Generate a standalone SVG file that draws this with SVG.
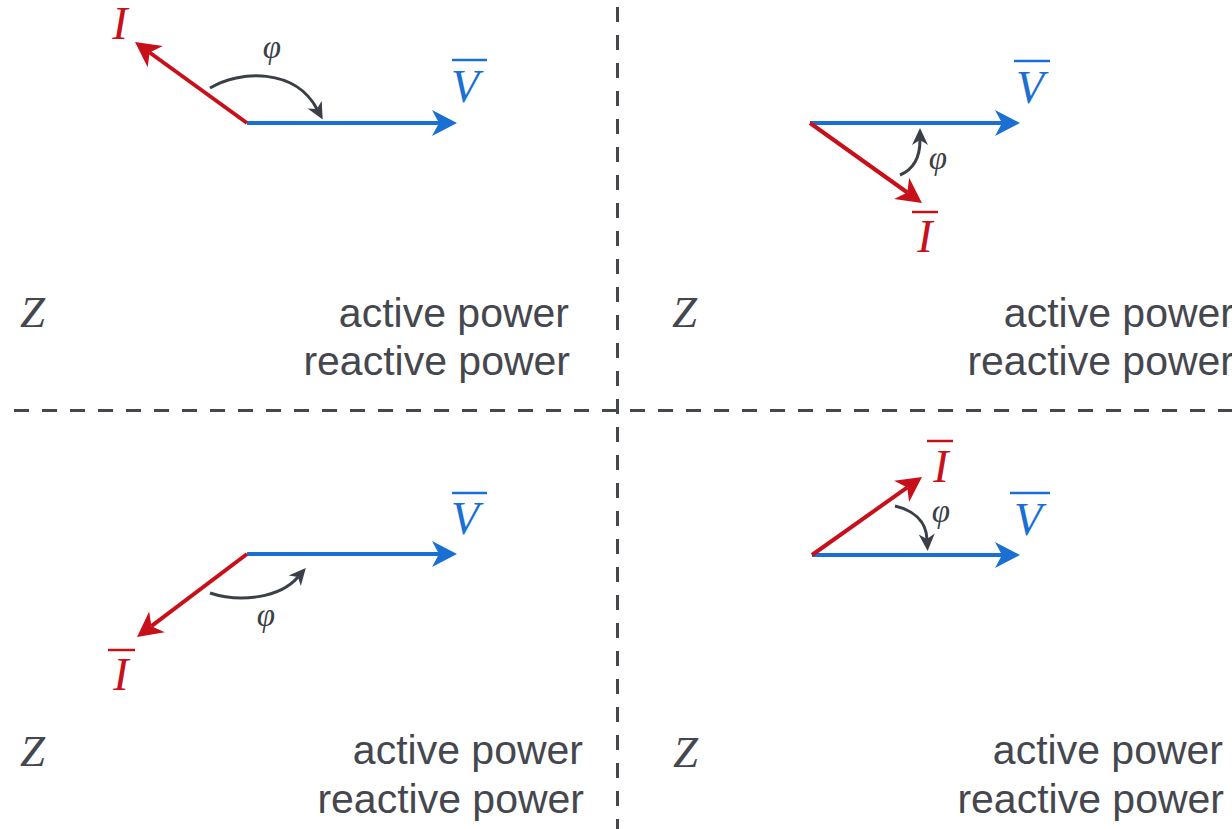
<svg xmlns="http://www.w3.org/2000/svg" width="1232" height="829" viewBox="0 0 1232 829">
<style>
.bg{fill:#ffffff}
.div{stroke:#45474f;stroke-width:3;stroke-dasharray:15 13;fill:none}
.vb{stroke:#1a70d2;stroke-width:4;fill:none}
.vr{stroke:#c8101a;stroke-width:4;fill:none}
.arc{stroke:#3b3f47;stroke-width:3;fill:none}
.sym{font-family:"Liberation Serif","DejaVu Serif",serif;font-style:italic;font-size:46px;text-anchor:middle}
.phi{font-family:"Liberation Serif","DejaVu Serif",serif;font-style:italic;font-size:33px;text-anchor:middle;fill:#3b3f47}
.z{font-family:"Liberation Serif","DejaVu Serif",serif;font-style:italic;font-size:45px;fill:#45474f}
.lbl{font-family:"Liberation Sans","Arial",sans-serif;font-size:41px;fill:#45474f;text-anchor:end}
.blue{fill:#1a70d2}
.red{fill:#c8101a}
.barb{stroke:#1a70d2;stroke-width:2.5}
.barr{stroke:#c8101a;stroke-width:2.5}
</style>
<defs>
<marker id="hb" viewBox="-1 -14 28 28" refX="7" refY="0" markerWidth="28" markerHeight="28" markerUnits="userSpaceOnUse" orient="auto" overflow="visible"><path d="M0,-13 L25,0 L0,13 L7,0 Z" fill="#1a70d2"/></marker>
<marker id="hr" viewBox="-1 -14 28 28" refX="7" refY="0" markerWidth="28" markerHeight="28" markerUnits="userSpaceOnUse" orient="auto" overflow="visible"><path d="M0,-13 L25,0 L0,13 L7,0 Z" fill="#c8101a"/></marker>
<marker id="hg" viewBox="-1 -9 20 18" refX="5" refY="0" markerWidth="20" markerHeight="18" markerUnits="userSpaceOnUse" orient="auto" overflow="visible"><path d="M0,-8 L17,0 L0,8 L5,0 Z" fill="#3b3f47"/></marker>
</defs>
<rect class="bg" x="0" y="0" width="1232" height="829"/>
<g id="dividers">
<line class="div" x1="617.5" y1="7" x2="617.5" y2="829"/>
<line class="div" x1="14" y1="410.5" x2="1232" y2="410.5"/>
</g>
<g id="connectors">
<line class="vb" x1="247" y1="123" x2="439" y2="123" marker-end="url(#hb)"/>
<line class="vr" x1="247" y1="123" x2="149.6" y2="52.5" marker-end="url(#hr)"/>
<path class="arc" d="M210,88 C240,70 295,68 317,109" marker-end="url(#hg)"/>
<line class="vb" x1="810" y1="123" x2="1002" y2="123" marker-end="url(#hb)"/>
<line class="vr" x1="810" y1="123" x2="907.3" y2="192.5" marker-end="url(#hr)"/>
<path class="arc" d="M900,175 C912,170 920,160 920,140" marker-end="url(#hg)"/>
<line class="vb" x1="247" y1="554" x2="439" y2="554" marker-end="url(#hb)"/>
<line class="vr" x1="247" y1="554" x2="151.4" y2="626.2" marker-end="url(#hr)"/>
<path class="arc" d="M210,593 C240,603 280,598 298,577" marker-end="url(#hg)"/>
<line class="vb" x1="812" y1="555" x2="1002" y2="555" marker-end="url(#hb)"/>
<line class="vr" x1="812" y1="555" x2="907.3" y2="487.4" marker-end="url(#hr)"/>
<path class="arc" d="M895,506 C912,510 926,520 927,539" marker-end="url(#hg)"/>
</g>
<g id="q1">
<text class="sym red" x="120" y="39">I</text>
<text class="phi" x="272" y="58">φ</text>
<line class="barb" x1="452" y1="60" x2="487" y2="60"/>
<text class="sym blue" x="465" y="102">V</text>
<text class="z" x="20" y="327">Z</text>
<text class="lbl" x="569" y="327">active power</text>
<text class="lbl" x="570" y="375">reactive power</text>
</g>
<g id="q2">
<line class="barb" x1="1014" y1="61" x2="1050" y2="61"/>
<text class="sym blue" x="1030" y="103">V</text>
<text class="phi" x="938" y="169">φ</text>
<line class="barr" x1="912" y1="212" x2="938" y2="212"/>
<text class="sym red" x="925" y="252">I</text>
<text class="z" x="672" y="327">Z</text>
<text class="lbl" x="1234" y="327">active power</text>
<text class="lbl" x="1234" y="375">reactive power</text>
</g>
<g id="q3">
<line class="barb" x1="452" y1="493" x2="487" y2="493"/>
<text class="sym blue" x="465" y="534">V</text>
<text class="phi" x="266" y="626">φ</text>
<line class="barr" x1="108" y1="650" x2="135" y2="650"/>
<text class="sym red" x="121" y="690">I</text>
<text class="z" x="20" y="766">Z</text>
<text class="lbl" x="583" y="764">active power</text>
<text class="lbl" x="584" y="813">reactive power</text>
</g>
<g id="q4">
<line class="barr" x1="927" y1="441" x2="953" y2="441"/>
<text class="sym red" x="941" y="482">I</text>
<text class="phi" x="941" y="522">φ</text>
<line class="barb" x1="1010" y1="493" x2="1050" y2="493"/>
<text class="sym blue" x="1028" y="535">V</text>
<text class="z" x="673" y="767">Z</text>
<text class="lbl" x="1223" y="764">active power</text>
<text class="lbl" x="1224" y="813">reactive power</text>
</g>
</svg>
